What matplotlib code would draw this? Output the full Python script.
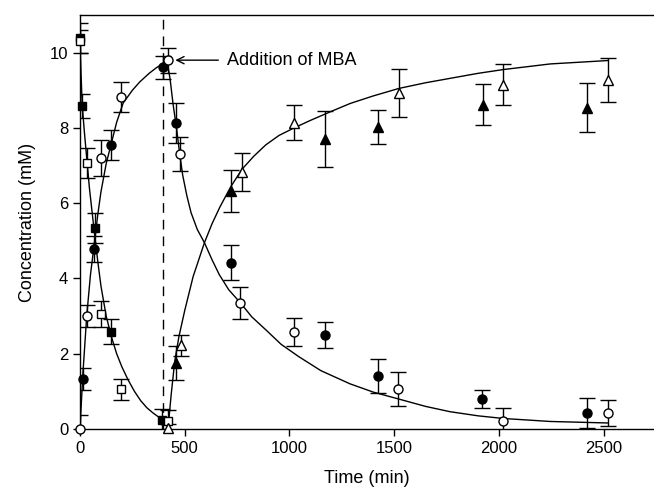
import matplotlib
matplotlib.use("Agg")
import matplotlib.pyplot as plt

plt.rcParams['font.family'] = ['Liberation Sans', 'DejaVu Sans']

# measured points (time in min, concentration in mM)
sq_f_t = [0, 10, 70, 148, 393]
sq_f_c = [10.4, 8.58, 5.33, 2.59, 0.24]
sq_f_e = [0.4, 0.33, 0.4, 0.32, 0.3]

sq_o_t = [0, 32, 98, 198, 420]
sq_o_c = [10.3, 7.07, 3.05, 1.05, 0.2]
sq_o_e = [0.3, 0.4, 0.34, 0.29, 0.3]

ci_f_t = [13, 68, 148, 396, 457, 720, 1170, 1423, 1921, 2420]
ci_f_c = [1.33, 4.78, 7.54, 9.61, 8.13, 4.42, 2.5, 1.41, 0.80, 0.43]
ci_f_e = [0.3, 0.35, 0.4, 0.3, 0.53, 0.47, 0.35, 0.45, 0.23, 0.4]

ci_o_t = [0, 32, 98, 198, 420, 476, 766, 1021, 1519, 2020, 2520]
ci_o_c = [0.0, 3.0, 7.2, 8.82, 9.8, 7.31, 3.35, 2.58, 1.06, 0.21, 0.43]
ci_o_e = [0.38, 0.3, 0.49, 0.41, 0.33, 0.45, 0.43, 0.38, 0.45, 0.35, 0.35]

tr_f_t = [457, 720, 1171, 1423, 1924, 2420]
tr_f_c = [1.75, 6.33, 7.71, 8.03, 8.62, 8.54]
tr_f_e = [0.45, 0.56, 0.75, 0.45, 0.55, 0.65]

tr_o_t = [418, 481, 773, 1022, 1523, 2019, 2520]
tr_o_c = [0.02, 2.22, 6.83, 8.14, 8.93, 9.15, 9.28]
tr_o_e = [0.1, 0.29, 0.5, 0.47, 0.64, 0.55, 0.59]

# fitted model curves
fitA_t = [0, 5, 10, 20, 32, 45, 60, 70, 85, 100, 125, 150, 175, 200, 230,
          260, 290, 320, 350, 380, 395]
fitA_c = [10.4, 9.45, 8.65, 7.95, 7.2, 6.4, 5.65, 5.15, 4.45, 3.8, 3.0, 2.45,
          2.0, 1.65, 1.3, 1.0, 0.75, 0.56, 0.42, 0.3, 0.25]

fitB_t = [0, 13, 32, 50, 70, 85, 100, 125, 150, 175, 206, 250, 285, 330, 365, 404]
fitB_c = [0.0, 1.4, 3.0, 4.1, 5.0, 5.7, 6.3, 7.05, 7.6, 8.15, 8.66, 9.0, 9.22,
          9.45, 9.6, 9.74]

fitC_t = [404, 418, 430, 445, 460, 475, 490, 510, 530, 560, 594, 630, 665, 710,
          766, 820, 888, 960, 1045, 1150, 1289, 1400, 1519, 1650, 1766, 1900,
          2020, 2245, 2520]
fitC_c = [9.74, 9.7, 9.3, 8.6, 8.03, 7.35, 6.75, 6.2, 5.75, 5.3, 4.95, 4.5, 4.1,
          3.7, 3.35, 2.98, 2.63, 2.25, 1.92, 1.55, 1.2, 0.98, 0.8, 0.6, 0.46,
          0.35, 0.28, 0.2, 0.16]

fitD_t = [420, 435, 452, 472, 500, 540, 594, 630, 668, 720, 773, 830, 887, 950,
          1022, 1100, 1204, 1290, 1400, 1523, 1650, 1750, 1900, 2020, 2245, 2520]
fitD_c = [0.0, 0.9, 1.79, 2.45, 3.15, 4.05, 4.95, 5.45, 5.9, 6.44, 6.9, 7.25,
          7.55, 7.8, 8.0, 8.2, 8.45, 8.65, 8.85, 9.05, 9.2, 9.3, 9.45, 9.55,
          9.7, 9.79]

mba_time = 397

fig = plt.figure(figsize=(6.54, 4.91), dpi=100)
ax = fig.add_axes([80 / 654, 62 / 491, 574 / 654, 414 / 491])

for ft, fc in [(fitA_t, fitA_c), (fitB_t, fitB_c), (fitC_t, fitC_c), (fitD_t, fitD_c)]:
    ax.plot(ft, fc, color='black', lw=1.0, zorder=2)

ax.axvline(mba_time, color='black', lw=1.0, ls=(0, (7, 5)), zorder=1)

series = [
    (sq_f_t, sq_f_c, sq_f_e, 's', 'black', 6.0),
    (sq_o_t, sq_o_c, sq_o_e, 's', 'white', 6.0),
    (ci_f_t, ci_f_c, ci_f_e, 'o', 'black', 6.5),
    (ci_o_t, ci_o_c, ci_o_e, 'o', 'white', 6.5),
    (tr_f_t, tr_f_c, tr_f_e, '^', 'black', 6.5),
    (tr_o_t, tr_o_c, tr_o_e, '^', 'white', 6.5),
]
for t, c, e, m, fc, ms in series:
    ax.errorbar(t, c, yerr=e, fmt='none', ecolor='black', elinewidth=1.0,
                capsize=6, capthick=1.0, zorder=3)
    ax.plot(t, c, ls='none', marker=m, ms=ms, mfc=fc, mec='black', mew=1.0,
            zorder=4, clip_on=False)

ax.annotate('Addition of MBA', xy=(455, 9.8), xytext=(700, 9.8),
            fontsize=13, va='center', ha='left',
            arrowprops=dict(arrowstyle='->', color='black', lw=1.0,
                            shrinkA=4, shrinkB=0))

ax.set_xlim(0, 2740)
ax.set_ylim(0, 11)
ax.set_xticks([0, 500, 1000, 1500, 2000, 2500])
ax.set_yticks([0, 2, 4, 6, 8, 10])
ax.tick_params(direction='out', length=5, width=1, labelsize=12, colors='black')
ax.spines['right'].set_visible(False)
for s in ['left', 'bottom', 'top']:
    ax.spines[s].set_linewidth(1.0)

ax.set_xlabel('Time (min)', fontsize=13, labelpad=10)
ax.set_ylabel('Concentration (mM)', fontsize=13, labelpad=10)

fig.savefig('out.png', dpi=100)
